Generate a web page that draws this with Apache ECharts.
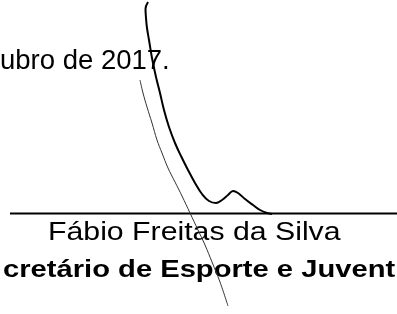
<!DOCTYPE html>
<html>
<head>
<meta charset="utf-8">
<script src="https://cdn.jsdelivr.net/npm/echarts@6/dist/echarts.min.js"></script>
<style>
    html, body { margin: 0; padding: 0; background: #fff; }
    #main { width: 397px; height: 314px; }
</style>
</head>
<body>
<div id="main"></div>
<script>
// linhas de texto do documento
let textLines = ['ubro de 2017.', 'Fábio Freitas da Silva', 'cretário de Esporte e Juvent'];

// assinatura: traço grosso (x, y em pixels da imagem)
let sigThick = [
    [148, 2], [145.5, 9], [146, 18], [147, 28], [149, 40], [152, 58], [156, 77], [160, 93],
    [164, 110], [169, 127], [175, 143], [181, 156], [188, 170], [195, 183], [202, 194],
    [209, 201], [216, 203], [222, 200], [228, 195], [233, 191], [238, 193],
    [245, 199], [253, 205], [260, 210], [267, 213], [272, 214]
];
// assinatura: traço fino
let sigThin = [
    [140, 80], [143, 93], [147, 107], [152, 123], [157, 140], [162, 153], [168, 168],
    [175, 182], [182, 196], [190, 213], [198, 230], [205, 245], [212, 262], [220, 282],
    [228, 306]
];
// linha da assinatura
let ruleLine = [[10, 213.5], [397, 213.5]];

let chart = echarts.init(document.getElementById('main'));

let option = {
    animation: false,
    backgroundColor: '#fff',
    grid: { left: 0, right: 0, top: 0, bottom: 0 },
    xAxis: { type: 'value', min: 0, max: 397, show: false },
    yAxis: { type: 'value', min: 0, max: 314, inverse: true, show: false },
    graphic: [
        {
            type: 'text', x: 0, y: 47,
            style: { text: textLines[0], font: '27.5px "Liberation Sans", Arial', fill: '#000' }
        },
        {
            type: 'text', x: 48, y: 221, scaleX: 1.21,
            style: { text: textLines[1], font: '25px "Liberation Sans", Arial', fill: '#000' }
        },
        {
            type: 'text', x: 3, y: 258, scaleX: 1.215,
            style: { text: textLines[2], font: 'bold 24px "Liberation Sans", Arial', fill: '#000' }
        }
    ],
    series: [
        {
            type: 'line', data: ruleLine, symbol: 'none',
            lineStyle: { color: '#000', width: 2 }
        },
        {
            type: 'line', data: sigThick, symbol: 'none', smooth: 0.4,
            lineStyle: { color: '#000', width: 2 }
        },
        {
            type: 'line', data: sigThin, symbol: 'none', smooth: 0.4,
            lineStyle: { color: '#333', width: 1 }
        }
    ]
};
chart.setOption(option);

window.addEventListener('resize', function () {
    chart.resize();
});
</script>
</body>
</html>
